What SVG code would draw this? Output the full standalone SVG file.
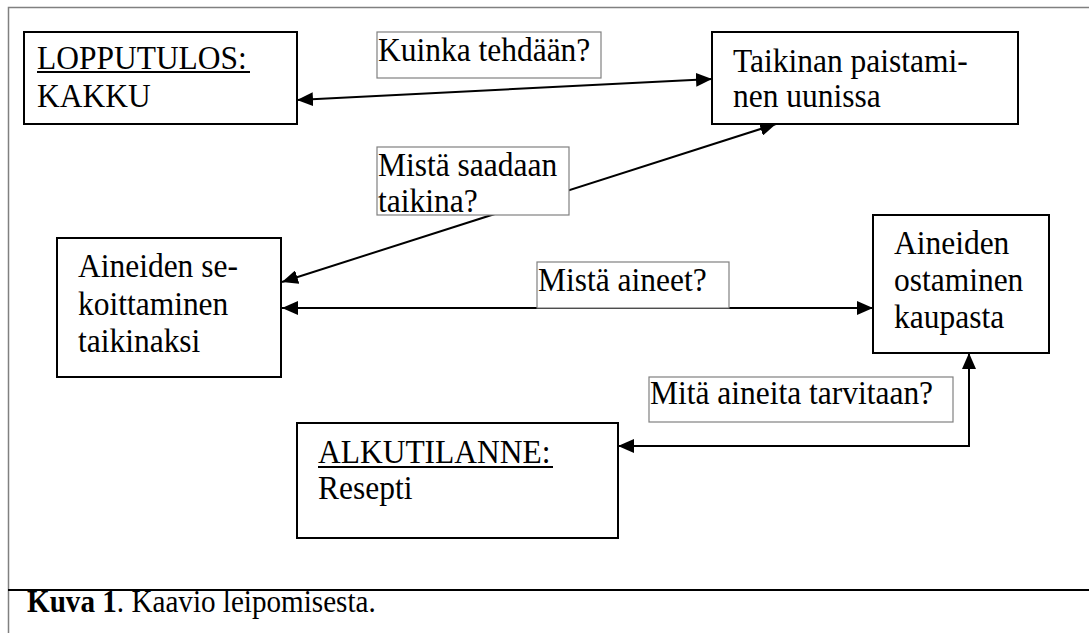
<svg xmlns="http://www.w3.org/2000/svg" width="1089" height="633" viewBox="0 0 1089 633">
<style>
text{font-family:"Liberation Serif","Times New Roman",serif;font-size:34px;fill:#000}
.node{fill:#fff;stroke:#000;stroke-width:2}
.lbl{fill:#fff;stroke:#808080;stroke-width:1.2}
.con{fill:none;stroke:#000;stroke-width:2}
.ul{stroke:#000;stroke-width:2}
.frame{stroke:#808080;stroke-width:1.5;fill:none}
</style>
<defs>
<marker id="ah" markerUnits="userSpaceOnUse" markerWidth="16" markerHeight="14" refX="16" refY="7" orient="auto-start-reverse" viewBox="0 0 16 14">
<path d="M0,0 L16,7 L0,14 z" fill="#000"/>
</marker>
</defs>
<rect width="1089" height="633" fill="#fff"/>
<g id="frame">
<path class="frame" d="M1089,7.5 H8.5 V633"/>
<line x1="8" y1="590" x2="1089" y2="590" stroke="#000" stroke-width="2"/>
</g>
<g id="connectors">
<line class="con" x1="297" y1="100" x2="712" y2="79" marker-start="url(#ah)" marker-end="url(#ah)"/>
<line class="con" x1="282" y1="282" x2="776" y2="124" marker-start="url(#ah)" marker-end="url(#ah)"/>
<line class="con" x1="282" y1="308" x2="873" y2="308" marker-start="url(#ah)" marker-end="url(#ah)"/>
<polyline class="con" points="618,446 969,446 969,353" marker-start="url(#ah)" marker-end="url(#ah)"/>
<g id="lbl-kuinka">
<rect class="lbl" x="377" y="32" width="224" height="46"/>
<text transform="translate(378,61) scale(0.926,1)">Kuinka tehdään?</text>
</g>
<g id="lbl-mista-saadaan">
<rect class="lbl" x="377" y="147" width="192" height="68"/>
<text transform="translate(378,176) scale(0.926,1)">Mistä saadaan</text>
<text transform="translate(378,212) scale(0.926,1)">taikina?</text>
</g>
<g id="lbl-mista-aineet">
<rect class="lbl" x="537" y="262" width="192" height="46"/>
<text transform="translate(538,291) scale(0.926,1)">Mistä aineet?</text>
</g>
<g id="lbl-mita">
<rect class="lbl" x="649" y="377" width="304" height="45"/>
<text transform="translate(650,404) scale(0.926,1)">Mitä aineita tarvitaan?</text>
</g>
</g>
<g id="node-lopputulos">
<rect class="node" x="24" y="32" width="273" height="92"/>
<text transform="translate(37,69) scale(0.926,1)">LOPPUTULOS:</text>
<line class="ul" x1="37" y1="72" x2="250" y2="72"/>
<text transform="translate(37,107) scale(0.926,1)">KAKKU</text>
</g>
<g id="node-taikinan">
<rect class="node" x="712" y="32" width="306" height="92"/>
<text transform="translate(733,72) scale(0.926,1)">Taikinan paistami-</text>
<text transform="translate(733,107) scale(0.926,1)">nen uunissa</text>
</g>
<g id="node-sekoittaminen">
<rect class="node" x="57" y="238" width="224" height="139"/>
<text transform="translate(78,277) scale(0.926,1)">Aineiden se-</text>
<text transform="translate(78,315) scale(0.926,1)">koittaminen</text>
<text transform="translate(78,352) scale(0.926,1)">taikinaksi</text>
</g>
<g id="node-ostaminen">
<rect class="node" x="873" y="215" width="176" height="138"/>
<text transform="translate(894,254) scale(0.926,1)">Aineiden</text>
<text transform="translate(894,291) scale(0.926,1)">ostaminen</text>
<text transform="translate(894,328) scale(0.926,1)">kaupasta</text>
</g>
<g id="node-alkutilanne">
<rect class="node" x="297" y="423" width="321" height="115"/>
<text transform="translate(318,463) scale(0.926,1)">ALKUTILANNE:</text>
<line class="ul" x1="318" y1="467" x2="553" y2="467"/>
<text transform="translate(318,499) scale(0.926,1)">Resepti</text>
</g>
<g id="caption">
<text transform="translate(27,612) scale(0.94,1)" style="font-size:31px"><tspan font-weight="bold">Kuva 1</tspan>. Kaavio leipomisesta.</text>
</g>
</svg>
